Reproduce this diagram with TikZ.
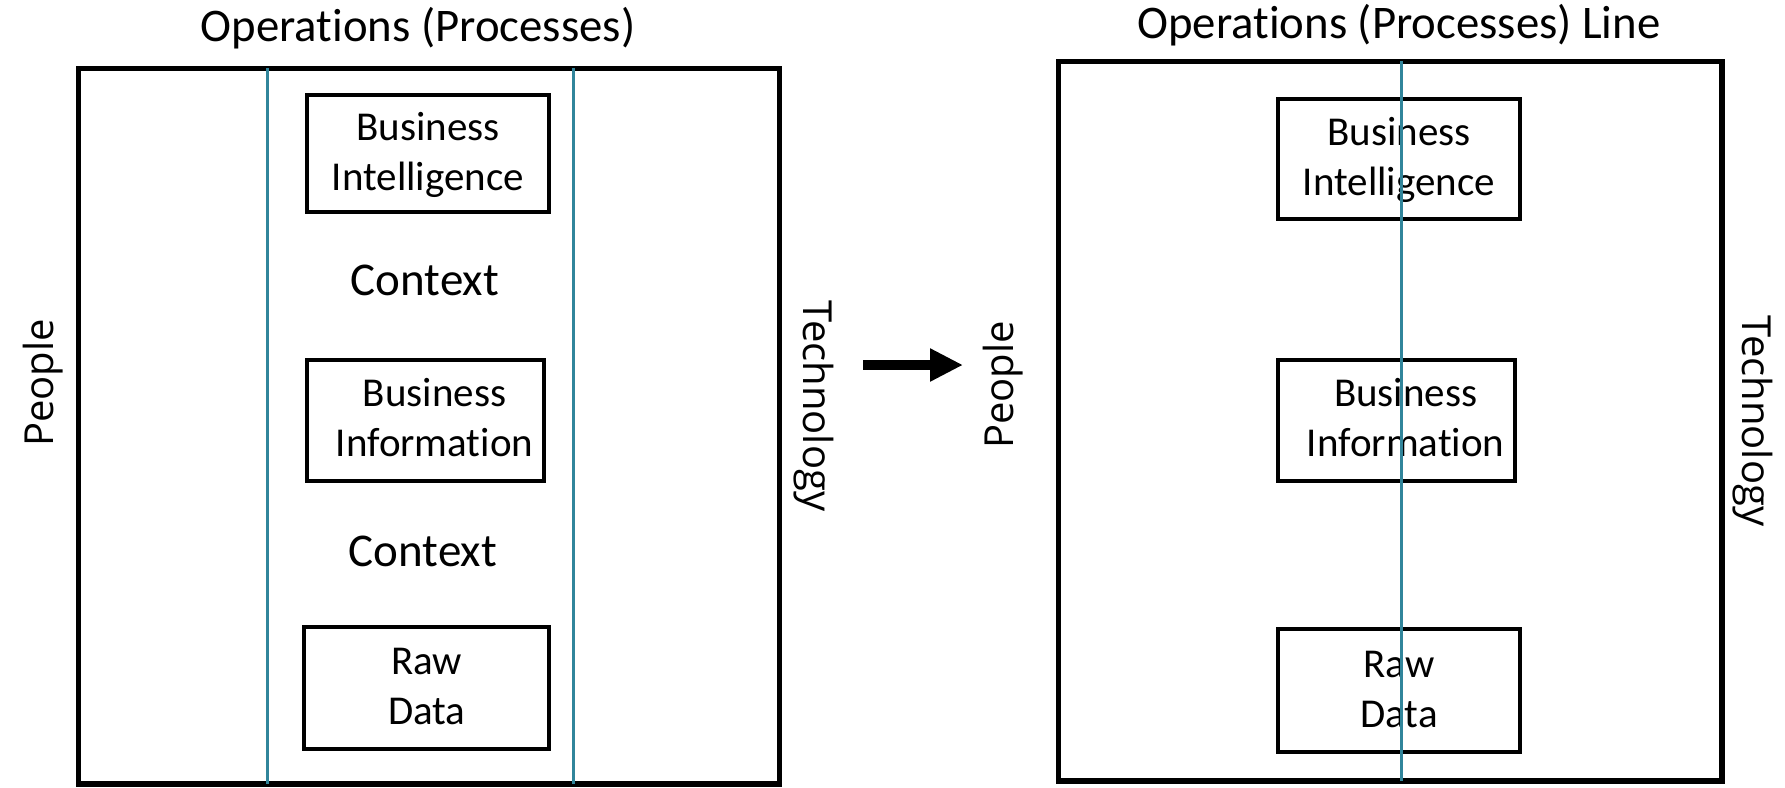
\documentclass[tikz,border=0pt]{standalone}
\usepackage{fontspec}
\setmainfont{Carlito}[Ligatures=NoCommon]
\newfontfamily\sidefont{Open Sans}
\usetikzlibrary{arrows.meta}
\definecolor{tealline}{RGB}{49,133,155}

\tikzset{
  frame/.style={draw=black, line width=2.2pt, inner sep=0pt},
  layerbox/.style={draw=black, line width=1.6pt, inner sep=0pt, align=center,
    font=\fontsize{16.4}{20}\selectfont},
  title/.style={font=\fontsize{18.7}{22}\selectfont, inner sep=0pt, anchor=base},
  ctx/.style={font=\fontsize{18.8}{22}\selectfont, inner sep=0pt, anchor=base},
  side/.style={font=\sidefont\fontsize{16}{19}\selectfont, inner sep=0pt, anchor=base},
  axisline/.style={draw=tealline, line width=1.2pt, shorten <=1.1pt, shorten >=1.1pt},
  shift arrow/.style={line width=4pt, -{Triangle[length=13.2pt, width=12.4pt]}}
}
% struts that put the two lines of a box at the same height in every box
\newcommand{\topstrut}{\rule{0pt}{16pt}}
\newcommand{\botstrut}{\rule[-6.8pt]{0pt}{6.8pt}}
\newcommand{\boxtext}[2]{\topstrut#1\\#2\botstrut}

\begin{document}
\begin{tikzpicture}[x=0.4pt, y=-0.4pt]
\useasboundingbox (0,0) rectangle (1785,787);

% ---- left: three layers between two process lines ----
\node[title] (titleL) at (418,41) {Operations (Processes)};
\node[frame, minimum width=280.4pt, minimum height=286.2pt] (outL) at (429,426.2) {};
\coordinate (lineLa) at (267,0);
\coordinate (lineLb) at (573,0);
\draw[axisline] (lineLa |- outL.north) -- (lineLa |- outL.south);
\draw[axisline] (lineLb |- outL.north) -- (lineLb |- outL.south);

\node[layerbox, minimum width=96.8pt, minimum height=46.6pt] (biL) at (428,153.5)
  {\boxtext{Business}{Intelligence}};
\node[ctx] (ctxL1) at (425,295) {Context};
\node[layerbox, minimum width=94.8pt, minimum height=48.3pt] (infoL) at (425.5,420.3)
  {\boxtext{\hspace*{7.2pt}Business}{\hspace*{7.2pt}Information}};
\node[ctx] (ctxL2) at (423,566) {Context};
\node[layerbox, minimum width=98.2pt, minimum height=48.6pt] (rawL) at (426.7,688)
  {\boxtext{Raw}{Data}};

\node[side, rotate=90] (peopleL) at (53,383) {People};
\node[side, rotate=-90] (techL) at (803,406) {Technology};

% ---- transition arrow ----
\coordinate (arrowFrom) at (863,365);
\coordinate (arrowTo) at (963,365);
\draw[shift arrow] (arrowFrom) -- (arrowTo);

% ---- right: layers on a single process line ----
\node[title] (titleR) at (1399,38) {Operations (Processes) Line};
\node[frame, minimum width=265.4pt, minimum height=287.9pt] (outR) at (1390.2,421.2) {};

\node[layerbox, minimum width=96.8pt, minimum height=48.1pt] (biR) at (1399,158.8)
  {\boxtext{Business}{Intelligence}};
\node[layerbox, minimum width=95pt, minimum height=48.3pt] (infoR) at (1396.7,420.3)
  {\boxtext{\hspace*{7.2pt}Business}{\hspace*{7.2pt}Information}};
\node[layerbox, minimum width=96.8pt, minimum height=49.3pt] (rawR) at (1399,690.7)
  {\boxtext{Raw}{Data}};

\coordinate (lineR) at (1401,0);
\draw[axisline] (lineR |- outR.north) -- (lineR |- outR.south);

\node[side, rotate=90] (peopleR) at (1013,385) {People};
\node[side, rotate=-90] (techR) at (1742,421) {Technology};
\end{tikzpicture}
\end{document}
